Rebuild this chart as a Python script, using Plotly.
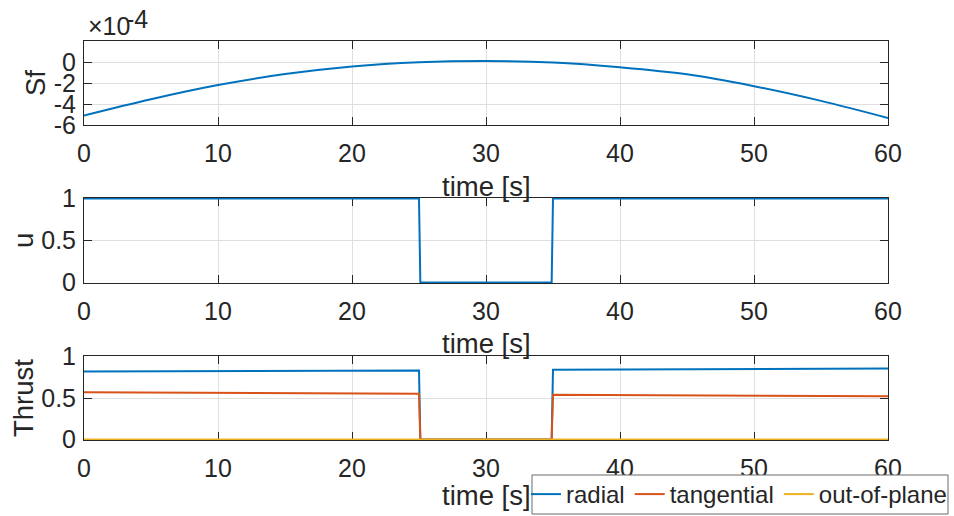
import plotly.graph_objects as go

# ---- data ----
time_sf = [0, 5, 10, 15, 20, 25, 30, 35, 40, 45, 50, 55, 60]
sf = [-5.1e-4, -3.55e-4, -2.2e-4, -1.15e-4, -0.42e-4, -0.02e-4, 0.1e-4,
      -0.05e-4, -0.5e-4, -1.17e-4, -2.3e-4, -3.7e-4, -5.33e-4]

time_u = [0, 25, 25.1, 34.9, 35, 60]
u = [1, 1, 0, 0, 1, 1]

time_thrust = [0, 25, 25.1, 34.9, 35, 60]
radial = [0.82, 0.83, 0.0, 0.0, 0.84, 0.855]
tangential = [0.57, 0.55, 0.0, 0.0, 0.54, 0.52]
out_of_plane = [0.0, 0.0, 0.0, 0.0, 0.0, 0.0]

x_ticks = [0, 10, 20, 30, 40, 50, 60]
sf_ticks = [-6e-4, -4e-4, -2e-4, 0]
sf_ticktext = ["-6", "-4", "-2", "0"]
unit_ticks = [0, 0.5, 1]
unit_ticktext = ["0", "0.5", "1"]

# ---- style ----
W, H = 954, 516
FONT = "Liberation Sans"
INK = "#262626"
GRID = "#dfdfdf"
BLUE, ORANGE, GOLD = "#0072BD", "#D95319", "#EDB120"
TICK_SIZE = 25
LABEL_SIZE = 27.5

X0, X1 = 84, 888
panels = [(41, 125), (198, 283), (356, 440)]  # top/bottom pixel rows of each axes box
LEGEND_BOX = (532, 475, 948, 514)              # left, top, right, bottom in pixels


def py(p):
    return 1 - p / H


def px(p):
    return p / W


def axis_common():
    return dict(
        showline=True, linecolor=INK, linewidth=1, mirror="ticks",
        ticks="inside", ticklen=8, tickwidth=1, tickcolor=INK,
        showgrid=True, gridcolor=GRID, gridwidth=1, zeroline=False,
        tickfont=dict(family=FONT, size=TICK_SIZE, color=INK),
        layer="below traces", automargin=False,
    )


fig = go.Figure()
fig.add_trace(go.Scatter(x=time_sf, y=sf, mode="lines", line=dict(color=BLUE, width=2, shape="spline"),
                         xaxis="x", yaxis="y", showlegend=False))
fig.add_trace(go.Scatter(x=time_u, y=u, mode="lines", line=dict(color=BLUE, width=2),
                         xaxis="x2", yaxis="y2", showlegend=False))
fig.add_trace(go.Scatter(x=time_thrust, y=radial, mode="lines", name="radial",
                         line=dict(color=BLUE, width=2), xaxis="x3", yaxis="y3"))
fig.add_trace(go.Scatter(x=time_thrust, y=tangential, mode="lines", name="tangential",
                         line=dict(color=ORANGE, width=2), xaxis="x3", yaxis="y3"))
fig.add_trace(go.Scatter(x=time_thrust, y=out_of_plane, mode="lines", name="out-of-plane",
                         line=dict(color=GOLD, width=2), xaxis="x3", yaxis="y3"))

lb_l, lb_t, lb_r, lb_b = LEGEND_BOX
layout = dict(
    width=W, height=H, margin=dict(l=0, r=0, t=0, b=0, autoexpand=False),
    paper_bgcolor="white", plot_bgcolor="white",
    font=dict(family=FONT, color=INK, size=TICK_SIZE),
    legend=dict(
        orientation="h", x=px(lb_r + 4), xanchor="right", y=py((lb_t + lb_b) / 2), yanchor="middle",
        bgcolor="rgba(0,0,0,0)", borderwidth=0,
        font=dict(family=FONT, size=24, color=INK),
        itemwidth=30, tracegroupgap=0,
    ),
    # white legend frame
    shapes=[dict(type="rect", xref="paper", yref="paper",
                 x0=px(lb_l), x1=px(lb_r), y0=py(lb_b), y1=py(lb_t),
                 fillcolor="white", line=dict(color="#6b6b6b", width=1), layer="above")],
)

yranges = [[-6e-4, 2e-4], [-0.006, 1.006], [-0.006, 1.006]]
yticks = [(sf_ticks, sf_ticktext), (unit_ticks, unit_ticktext), (unit_ticks, unit_ticktext)]
for i, (top, bot) in enumerate(panels):
    sfx = "" if i == 0 else str(i + 1)
    xa = axis_common()
    xa.update(domain=[px(X0), px(X1)], range=[0, 60], tickvals=x_ticks,
              anchor="y" + sfx, ticklabelstandoff=6)
    ya = axis_common()
    ya.update(domain=[py(bot), py(top)], range=yranges[i], tickvals=yticks[i][0],
              ticktext=yticks[i][1], anchor="x" + sfx, ticklabelstandoff=2)
    layout["xaxis" + sfx] = xa
    layout["yaxis" + sfx] = ya

annotations = []
# x-axis titles
for y_mid in (186, 343, 495):
    annotations.append(dict(text="time [s]", x=px((X0 + X1) / 2), y=py(y_mid), xref="paper", yref="paper",
                            xanchor="center", yanchor="middle", showarrow=False,
                            font=dict(family=FONT, size=LABEL_SIZE, color=INK)))
# y-axis titles
for text, x_mid, y_mid in (("Sf", 35, 83), ("u", 24, 241), ("Thrust", 23, 398)):
    annotations.append(dict(text=text, x=px(x_mid), y=py(y_mid), xref="paper", yref="paper",
                            xanchor="center", yanchor="middle", textangle=-90, showarrow=False,
                            font=dict(family=FONT, size=LABEL_SIZE, color=INK)))
# exponent multiplier of the Sf axis
annotations.append(dict(text="×10", x=px(86), y=py(36), xref="paper", yref="paper",
                        xanchor="left", yanchor="bottom", showarrow=False, yshift=-6,
                        font=dict(family=FONT, size=TICK_SIZE, color=INK)))
annotations.append(dict(text="-4", x=px(124), y=py(19), xref="paper", yref="paper",
                        xanchor="left", yanchor="middle", showarrow=False,
                        font=dict(family=FONT, size=TICK_SIZE, color=INK)))
layout["annotations"] = annotations

fig.update_layout(**layout)
fig.write_html("out.html")
